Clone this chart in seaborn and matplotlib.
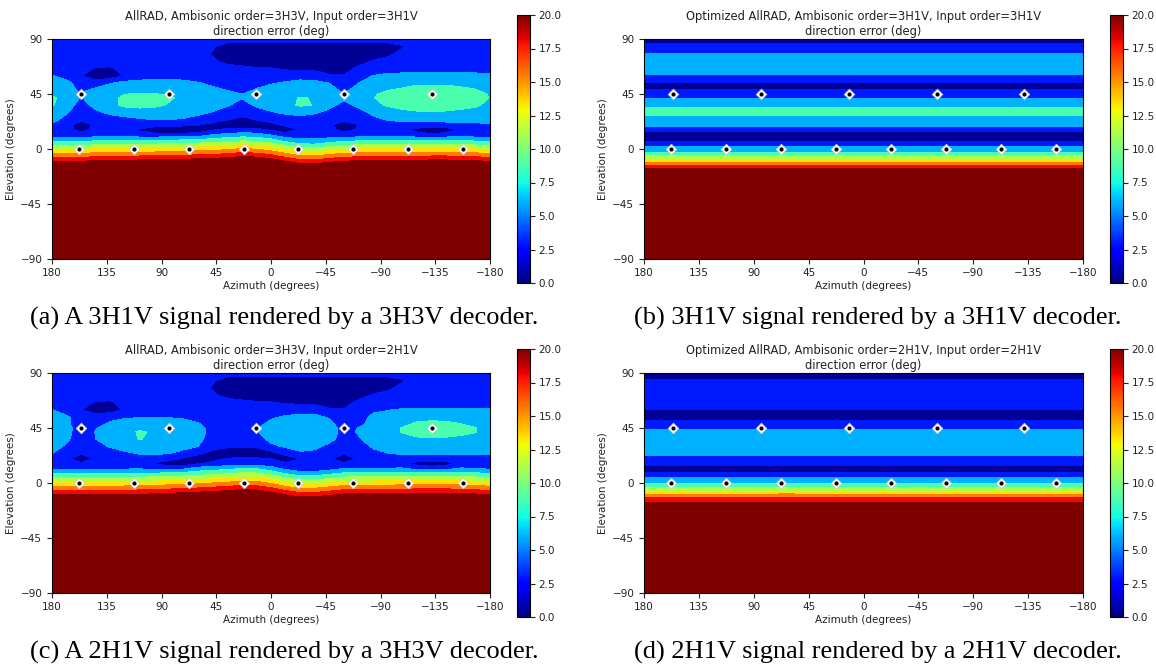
import numpy as np
import matplotlib
matplotlib.use("Agg")
import matplotlib.pyplot as plt
import matplotlib.colors as mcolors
import matplotlib.cm as cm
import seaborn as sns

# ------------------------------------------------------------------ data
# azimuth / elevation sample grid for the AllRAD panels (degrees)
az_grid = [180, 168, 156, 144, 132, 120, 108, 96, 84, 72, 60, 48, 36, 24, 12, 0,
           -12, -24, -36, -48, -60, -72, -84, -96, -108, -120, -132, -144, -156, -168, -180]
el_grid = [90, 84, 78, 72, 66, 60, 54, 48, 45, 42, 36, 30, 24, 20, 16, 12, 6, 0, -6, -12, -18, -90]

# (a) AllRAD 3H3V decoder, 3H1V input: direction error (deg), one row per elevation
err_a = [
    [3.5] * 31,
    [3.5] * 11 + [2.8] + [1.5] * 12 + [2.3] + [3.5] * 6,
    [3.5] * 10 + [3.3, 2.3] + [1.5] * 11 + [2.0, 3.2] + [3.5] * 6,
    [3.5] * 11 + [2.9, 1.8, 1.6] + [1.5] * 7 + [1.8, 2.7, 3.3] + [3.5] * 7,
    [3.5, 3.5, 3.4, 2.3, 2.2, 3.3] + [3.5] * 7 + [3.0, 2.7, 2.6, 2.2, 2.0, 1.9, 1.8, 1.8, 2.9] + [3.5] * 9,
    [5.1, 4.2, 2.6, 1.0, 1.2, 2.8, 3.6, 4.0, 4.0, 3.9, 3.6, 3.4, 3.3, 3.2, 3.3, 3.5, 3.8, 4.0, 3.9, 2.7, 2.6, 3.8, 5.1, 5.8, 6.0, 6.0, 6.0, 6.0, 6.0, 6.0, 5.5],
    [6.0, 5.6, 4.0, 3.6, 4.9, 5.8, 6.0, 6.0, 6.0, 5.8, 5.2, 4.5, 4.0, 3.8, 4.3, 4.8, 5.3, 5.8, 5.6, 5.0, 4.2, 5.0, 5.8, 6.2, 6.5, 7.2, 7.2, 7.2, 7.0, 6.6, 6.0],
    [6.5, 6.0, 4.5, 5.8, 6.3, 6.8, 7.0, 7.1, 6.8, 6.5, 6.0, 5.6, 5.0, 4.3, 5.3, 6.0, 6.3, 6.5, 6.2, 5.7, 4.6, 5.8, 6.5, 7.5, 8.0, 8.3, 8.4, 8.3, 8.0, 7.7, 6.8],
    [7.0, 6.5, 5.1, 6.5, 7.0, 7.5, 7.6, 7.6, 7.3, 6.8, 6.3, 5.8, 5.3, 5.0, 5.8, 6.5, 6.8, 7.0, 6.8, 6.2, 5.2, 6.5, 7.2, 8.2, 8.8, 9.0, 9.0, 9.0, 8.8, 8.3, 7.3],
    [8.0, 6.5, 4.8, 6.3, 6.8, 8.0, 8.4, 8.3, 7.8, 7.0, 6.5, 6.0, 5.5, 5.1, 6.0, 6.6, 7.0, 7.6, 7.4, 6.6, 5.4, 6.6, 7.4, 8.4, 9.0, 9.2, 9.2, 9.2, 9.0, 8.6, 7.4],
    [7.7, 6.2, 4.0, 5.8, 6.8, 8.0, 8.3, 8.0, 7.3, 6.5, 6.2, 5.7, 5.2, 4.2, 5.3, 6.0, 6.8, 7.8, 7.4, 5.6, 4.3, 5.5, 6.8, 7.8, 8.5, 8.8, 8.8, 8.6, 8.3, 7.9, 6.8],
    [6.5, 5.2, 3.5, 4.5, 5.5, 6.0, 6.3, 6.3, 6.2, 5.9, 5.5, 4.9, 4.0, 3.5, 4.2, 4.8, 5.4, 5.8, 5.3, 4.4, 3.6, 4.3, 5.4, 6.2, 6.8, 7.2, 7.4, 7.2, 6.9, 6.6, 6.5],
    [5.6, 4.3, 3.2, 3.5, 3.9, 4.3, 4.7, 5.0, 5.0, 4.8, 4.2, 3.3, 2.6, 1.8, 2.6, 3.3, 3.8, 4.0, 3.8, 3.4, 3.2, 3.6, 4.6, 5.1, 5.5, 5.6, 5.7, 5.7, 5.6, 5.5, 5.6],
    [4.8, 3.6, 1.0, 3.2, 3.6, 3.8, 3.8, 3.6, 3.4, 3.1, 2.7, 2.0, 0.9, 0.7, 0.9, 2.0, 3.0, 3.3, 3.4, 3.0, 1.1, 2.5, 3.6, 4.0, 4.3, 4.2, 4.0, 4.2, 4.5, 4.7, 4.8],
    [3.8, 3.3, 1.7, 3.2, 3.3, 3.2, 2.3, 1.2, 0.9, 0.9, 1.1, 2.1, 3.0, 3.2, 3.0, 2.0, 1.4, 2.7, 3.3, 3.2, 1.6, 2.8, 3.4, 3.3, 2.9, 1.9, 1.0, 1.5, 2.9, 3.4, 3.8],
    [3.2, 3.2, 3.2, 3.4, 3.6, 3.7, 3.0, 3.0, 3.0, 3.0, 3.3, 4.8, 5.4, 5.9, 5.7, 4.6, 3.2, 3.3, 3.3, 3.3, 3.2, 3.4, 3.5, 3.5, 3.6, 3.0, 2.8, 3.0, 3.6, 3.3, 3.2],
    [7.6, 7.6, 7.7, 8.0, 8.2, 8.3, 8.5, 8.5, 8.7, 8.9, 9.1, 9.4, 10.0, 10.5, 10.3, 9.2, 7.5, 6.1, 6.0, 6.9, 7.7, 8.0, 8.1, 8.1, 8.2, 8.4, 8.5, 8.5, 8.2, 7.9, 7.6],
    [12.2, 12.2, 12.3, 12.6, 12.8, 12.9, 13.1, 13.1, 13.3, 13.5, 13.8, 14.0, 14.6, 15.2, 14.9, 13.8, 12.2, 10.8, 10.6, 11.5, 12.3, 12.6, 12.7, 12.7, 12.8, 13.0, 13.1, 13.1, 12.8, 12.5, 12.2],
    [16.8, 16.8, 16.9, 17.2, 17.5, 17.5, 17.7, 17.7, 17.9, 18.2, 18.4, 18.6, 19.2, 19.8, 19.5, 18.5, 16.8, 15.4, 15.2, 16.2, 16.9, 17.2, 17.3, 17.3, 17.5, 17.6, 17.7, 17.7, 17.5, 17.2, 16.8],
    [21.5, 21.5, 21.5, 21.9, 22.1, 22.2, 22.3, 22.3, 22.5, 22.8, 23.0, 23.2, 23.9, 24.4, 24.2, 23.1, 21.4, 20.0, 19.9, 20.8, 21.5, 21.9, 21.9, 21.9, 22.1, 22.2, 22.3, 22.3, 22.1, 21.8, 21.5],
    [28.0] * 31,
    [40.0] * 31,
]

# (c) AllRAD 3H3V decoder, 2H1V input
err_c = [
    [3.5] * 31,
    [3.5] * 11 + [2.8] + [1.5] * 12 + [2.3] + [3.5] * 6,
    [3.5] * 10 + [3.3, 2.3] + [1.5] * 11 + [2.0, 3.2] + [3.5] * 6,
    [3.5] * 11 + [2.9, 1.8, 1.6] + [1.5] * 7 + [1.8, 2.7, 3.3] + [3.5] * 7,
    [3.5, 3.5, 3.4, 2.3, 2.2, 3.3] + [3.5] * 7 + [3.0, 2.7, 2.6, 2.2, 2.0, 1.9, 1.8, 1.8, 2.9] + [3.5] * 9,
    [5.1, 4.0, 2.6, 1.0, 1.2, 2.9, 3.8, 3.9, 3.9, 3.7, 3.5, 3.4, 3.3, 3.2, 3.3, 3.6, 4.0, 4.2, 4.2, 2.7, 2.6, 3.6, 4.6, 4.9, 5.3, 5.5, 5.5, 5.5, 5.5, 5.4, 5.2],
    [5.8, 5.3, 4.0, 3.6, 4.6, 4.8, 4.9, 4.9, 4.9, 4.7, 4.2, 3.8, 3.6, 3.5, 3.7, 4.7, 5.3, 5.5, 5.5, 4.8, 3.8, 4.1, 5.5, 5.8, 6.0, 7.0, 7.0, 7.0, 6.5, 6.0, 5.9],
    [6.3, 5.4, 4.0, 4.5, 5.3, 6.0, 6.3, 6.4, 6.3, 6.0, 5.3, 4.0, 3.6, 3.5, 4.3, 5.7, 6.2, 6.4, 6.3, 5.6, 4.0, 4.6, 5.6, 6.2, 7.2, 7.8, 8.0, 7.9, 7.6, 7.0, 6.4],
    [6.5, 5.6, 4.0, 4.9, 5.8, 6.4, 6.8, 6.9, 6.8, 6.4, 5.7, 4.2, 3.7, 3.6, 4.9, 6.0, 6.5, 6.7, 6.6, 6.0, 4.2, 5.1, 6.2, 6.8, 7.6, 8.2, 8.5, 8.4, 8.0, 7.6, 6.6],
    [6.5, 5.7, 3.8, 5.1, 6.0, 6.6, 7.8, 7.2, 6.8, 6.4, 5.8, 4.3, 3.7, 3.6, 4.8, 6.0, 6.6, 6.8, 6.7, 6.1, 4.2, 5.2, 6.3, 6.9, 7.6, 8.2, 8.4, 8.3, 8.0, 7.6, 6.6],
    [6.2, 5.4, 3.6, 5.0, 6.0, 6.5, 7.6, 7.0, 6.6, 6.2, 5.6, 4.0, 3.4, 3.3, 4.0, 5.6, 6.3, 6.5, 6.4, 5.8, 3.9, 4.8, 5.9, 6.5, 7.0, 7.2, 7.3, 7.2, 7.0, 6.8, 6.2],
    [5.7, 4.7, 3.3, 4.2, 5.2, 5.8, 6.2, 6.3, 6.1, 5.7, 5.0, 3.6, 2.9, 2.8, 2.9, 4.5, 5.3, 5.8, 5.6, 4.3, 3.5, 3.9, 5.3, 6.0, 6.3, 6.5, 6.6, 6.5, 6.4, 6.1, 5.7],
    [5.0, 3.8, 2.6, 3.3, 3.9, 4.6, 5.1, 5.2, 5.0, 4.2, 3.0, 1.4, 0.8, 0.7, 0.8, 1.4, 3.2, 4.6, 4.3, 3.4, 2.6, 3.3, 4.4, 4.9, 5.2, 5.3, 5.3, 5.3, 5.2, 5.1, 5.1],
    [4.0, 3.3, 1.0, 3.0, 3.5, 3.6, 3.7, 3.6, 3.5, 2.2, 1.0, 1.8, 2.7, 2.9, 2.8, 2.5, 1.0, 2.7, 3.5, 3.0, 1.0, 3.0, 3.5, 3.7, 3.9, 3.9, 3.9, 3.9, 4.0, 4.0, 4.0],
    [3.6, 3.4, 2.8, 3.2, 3.4, 3.5, 3.4, 2.4, 1.2, 1.0, 2.3, 3.0, 3.4, 3.5, 3.5, 3.4, 2.8, 3.2, 3.5, 3.4, 2.8, 3.2, 3.4, 3.3, 3.0, 1.8, 1.0, 1.7, 3.2, 3.5, 3.6],
    [4.5, 4.5, 4.5, 4.5, 4.5, 4.6, 4.7, 4.2, 4.2, 4.4, 5.9, 6.3, 6.8, 7.4, 7.3, 6.0, 4.3, 3.2, 3.2, 4.0, 4.9, 5.0, 5.0, 5.1, 5.2, 4.0, 3.8, 4.0, 5.2, 4.9, 4.5],
    [8.8, 8.8, 8.8, 8.8, 8.8, 8.9, 9.1, 9.3, 9.6, 9.9, 10.2, 10.6, 11.1, 11.7, 11.6, 10.4, 8.6, 7.5, 7.5, 8.3, 9.2, 9.3, 9.3, 9.4, 9.6, 9.7, 9.7, 9.7, 9.6, 9.2, 8.8],
    [13.1, 13.1, 13.1, 13.1, 13.1, 13.2, 13.4, 13.6, 13.9, 14.2, 14.5, 15.0, 15.5, 16.0, 15.9, 14.7, 12.9, 11.8, 11.9, 12.7, 13.5, 13.7, 13.7, 13.7, 13.9, 14.0, 14.0, 14.0, 13.9, 13.5, 13.1],
    [17.4, 17.4, 17.4, 17.4, 17.4, 17.6, 17.7, 17.9, 18.2, 18.6, 18.9, 19.3, 19.8, 20.4, 20.2, 19.0, 17.3, 16.1, 16.2, 17.0, 17.8, 18.0, 18.0, 18.1, 18.2, 18.3, 18.3, 18.3, 18.2, 17.8, 17.4],
    [21.7, 21.7, 21.7, 21.7, 21.7, 21.9, 22.0, 22.2, 22.5, 22.9, 23.2, 23.6, 24.1, 24.7, 24.5, 23.3, 21.6, 20.4, 20.5, 21.3, 22.2, 22.3, 22.3, 22.4, 22.5, 22.7, 22.7, 22.7, 22.5, 22.2, 21.7],
    [28.0] * 31,
    [40.0] * 31,
]

# (b) Optimized AllRAD 3H1V: error is constant along azimuth -> elevation stripes
el_edges_b = [90, 86.7, 78.5, 60.7, 53.9, 49.2, 41.5, 34.7, 27.0, 18.3, 13.6, 6.5, 2.4,
              -2.8, -5.3, -7.8, -10.3, -12.8, -15.3, -90]
err_b = [1.0, 3.5, 6.0, 3.5, 1.0, 3.5, 6.0, 8.5, 6.0, 3.5, 1.0, 3.5, 6.0,
         8.5, 11.0, 13.5, 16.0, 18.5, 25.0]

# (d) Optimized AllRAD 2H1V
el_edges_d = [90, 85.1, 59.9, 51.7, 44.0, 22.2, 14.0, 9.3, 4.7, -0.2, -3.5, -7.0, -9.0,
              -11.8, -15.3, -90]
err_d = [1.0, 3.5, 1.0, 3.5, 6.0, 3.5, 1.0, 3.5, 6.0, 8.5, 11.0, 13.5, 16.0, 18.5, 25.0]
# small local patch of higher error in (d)
patch_d_az = [56.5, 70.4]
patch_d_el = [-9.0, -7.9]
patch_d_err = [16.0]

# loudspeaker positions
spk_az = [156, 84, 12, -60, -132, 157.5, 112.5, 67.5, 22.5, -22.5, -67.5, -112.5, -157.5]
spk_el = [45, 45, 45, 45, 45, 0, 0, 0, 0, 0, 0, 0, 0]

titles = [
    "AllRAD, Ambisonic order=3H3V, Input order=3H1V\ndirection error (deg)",
    "Optimized AllRAD, Ambisonic order=3H1V, Input order=3H1V\ndirection error (deg)",
    "AllRAD, Ambisonic order=3H3V, Input order=2H1V\ndirection error (deg)",
    "Optimized AllRAD, Ambisonic order=2H1V, Input order=2H1V\ndirection error (deg)",
]
captions = [
    "(a) A 3H1V signal rendered by a 3H3V decoder.",
    "(b) 3H1V signal rendered by a 3H1V decoder.",
    "(c) A 2H1V signal rendered by a 3H3V decoder.",
    "(d) 2H1V signal rendered by a 2H1V decoder.",
]
x_ticks = [180, 135, 90, 45, 0, -45, -90, -135, -180]
y_ticks = [-90, -45, 0, 45, 90]
cbar_ticks = [0, 2.5, 5, 7.5, 10, 12.5, 15, 17.5, 20]
error_levels = [0, 2.5, 5, 7.5, 10, 12.5, 15, 17.5, 20, 100]

# ------------------------------------------------------------------ style
sns.set_theme(style="ticks")
plt.rcParams.update({
    "font.family": ["DejaVu Sans"],
    "axes.edgecolor": "black",
    "axes.linewidth": 0.8,
    "xtick.color": "#222222", "ytick.color": "#222222",
    "xtick.major.size": 3.5, "ytick.major.size": 3.5,
    "xtick.major.width": 0.8, "ytick.major.width": 0.8,
    "xtick.labelsize": 7.5, "ytick.labelsize": 7.5,
    "axes.labelsize": 7.5, "axes.titlesize": 8.3,
    "axes.labelcolor": "#222222", "text.color": "#222222",
})

jet = matplotlib.colormaps["jet"]
band_color_pos = [0.02, 0.15, 0.30, 0.44, 0.56, 0.67, 0.78, 0.90, 1.0]
band_colors = [jet(p) for p in band_color_pos]
band_cmap = mcolors.ListedColormap(band_colors)
band_norm = mcolors.BoundaryNorm(error_levels, band_cmap.N)

fig = plt.figure(figsize=(11.56, 6.67), dpi=100)
W, H = 1156.0, 667.0


def fpos(x0, y0, x1, y1):
    return [x0 / W, 1 - y1 / H, (x1 - x0) / W, (y1 - y0) / H]


ax_boxes = [fpos(52, 39.3, 490, 258.7), fpos(644, 39.3, 1083, 258.7),
            fpos(52, 373.3, 490, 592.7), fpos(644, 373.3, 1083, 592.7)]
cb_boxes = [fpos(517, 15, 530, 283), fpos(1110, 15, 1123, 283),
            fpos(517, 349, 530, 617), fpos(1110, 349, 1123, 617)]
cap_xy = [(284, 318), (878, 318), (284, 652), (878, 652)]


def draw_field(ax, grid):
    Z = np.array(grid, dtype=float)[::-1, ::-1]
    az = np.array(az_grid, dtype=float)[::-1]
    el = np.array(el_grid, dtype=float)[::-1]
    ax.contourf(az, el, Z, levels=error_levels, colors=band_colors, antialiased=False)


def draw_stripes(ax, edges, vals):
    e = np.array(edges, dtype=float)[::-1]
    v = np.array(vals, dtype=float)[::-1]
    ax.pcolormesh([-180, 180], e, v[:, None], cmap=band_cmap, norm=band_norm, shading="flat")


fields = [("grid", err_a), ("stripes", (el_edges_b, err_b)),
          ("grid", err_c), ("stripes", (el_edges_d, err_d))]

for i, (kind, data) in enumerate(fields):
    ax = fig.add_axes(ax_boxes[i])
    if kind == "grid":
        draw_field(ax, data)
    else:
        draw_stripes(ax, *data)
    if i == 3:
        ax.pcolormesh(patch_d_az, patch_d_el, np.array(patch_d_err)[:, None],
                      cmap=band_cmap, norm=band_norm, shading="flat")
    sns.scatterplot(x=spk_az, y=spk_el, marker="D", s=30, color="white",
                    edgecolor="#c8c8c8", linewidth=0.5, ax=ax, zorder=5, legend=False)
    sns.scatterplot(x=spk_az, y=spk_el, marker="o", s=9, color="black",
                    edgecolor="black", linewidth=0, ax=ax, zorder=6, legend=False)
    ax.set_xlim(180, -180)
    ax.set_ylim(-90, 90)
    ax.set_xticks(x_ticks)
    ax.set_yticks(y_ticks)
    ax.set_xlabel("Azimuth (degrees)", labelpad=1.5)
    ax.set_ylabel("Elevation (degrees)", labelpad=3)
    ax.set_title(titles[i], pad=3, linespacing=1.25)
    for s in ax.spines.values():
        s.set_visible(True)
        s.set_linewidth(0.8)

    cax = fig.add_axes(cb_boxes[i])
    sm = cm.ScalarMappable(norm=mcolors.Normalize(0, 20), cmap=jet)
    cb = fig.colorbar(sm, cax=cax, ticks=cbar_ticks, format="%.1f")
    cb.outline.set_linewidth(0.8)
    cax.tick_params(labelsize=7.5, length=3.5, width=0.8, pad=2.5)

    fig.text(cap_xy[i][0] / W, 1 - cap_xy[i][1] / H, captions[i],
             ha="center", va="center", fontsize=19, family="Liberation Serif",
             color="black")

fig.savefig("out.png", dpi=100)
